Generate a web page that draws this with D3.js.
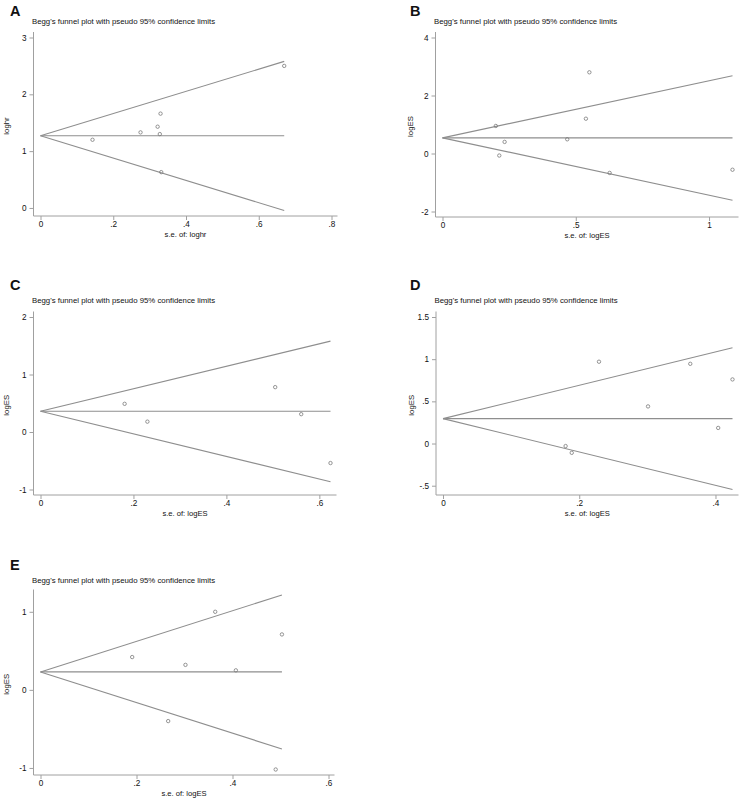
<!DOCTYPE html>
<html>
<head>
<meta charset="utf-8">
<script src="https://cdn.jsdelivr.net/npm/d3@7"></script>
<style>
  body { margin: 0; background: #fff; }
  svg { display: block; }
  text { font-family: "Liberation Sans", Arial, sans-serif; fill: #111; }
</style>
</head>
<body>
<svg id="chart" width="743" height="799"></svg>
<script>
// panel letters and axis titles
const panelIds = ["A", "B", "C", "D", "E"];
const yTitles = ["loghr", "logES", "logES", "logES", "logES"];
const xTitles = ["s.e. of: loghr", "s.e. of: logES", "s.e. of: logES", "s.e. of: logES", "s.e. of: logES"];
const plotTitle = "Begg's funnel plot with pseudo 95% confidence limits";

// tick values and their Stata style labels
const xTicks = [[0, 0.2, 0.4, 0.6, 0.8], [0, 0.5, 1], [0, 0.2, 0.4, 0.6], [0, 0.2, 0.4], [0, 0.2, 0.4, 0.6]];
const xTickLabels = [["0", ".2", ".4", ".6", ".8"], ["0", ".5", "1"], ["0", ".2", ".4", ".6"], ["0", ".2", ".4"], ["0", ".2", ".4", ".6"]];
const yTicks = [[0, 1, 2, 3], [-2, 0, 2, 4], [-1, 0, 1, 2], [-0.5, 0, 0.5, 1, 1.5], [-1, 0, 1]];
const yTickLabels = [["0", "1", "2", "3"], ["-2", "0", "2", "4"], ["-1", "0", "1", "2"], ["-.5", "0", ".5", "1", "1.5"], ["-1", "0", "1"]];

// study points: standard error and effect size
const seA = [0.143, 0.275, 0.322, 0.330, 0.328, 0.332, 0.670];
const esA = [1.20, 1.33, 1.43, 1.66, 1.30, 0.63, 2.50];
const seB = [0.200, 0.213, 0.233, 0.468, 0.538, 0.551, 0.627, 1.088];
const esB = [0.95, -0.07, 0.40, 0.49, 1.20, 2.80, -0.67, -0.56];
const seC = [0.181, 0.230, 0.505, 0.561, 0.624];
const esC = [0.49, 0.18, 0.78, 0.31, -0.54];
const seD = [0.180, 0.189, 0.229, 0.301, 0.363, 0.404, 0.425];
const esD = [-0.03, -0.11, 0.97, 0.44, 0.945, 0.185, 0.76];
const seE = [0.191, 0.266, 0.302, 0.364, 0.407, 0.490, 0.503];
const esE = [0.42, -0.40, 0.32, 1.00, 0.25, -1.02, 0.71];

// pooled estimate and the pseudo 95% limits at the largest s.e.
const pooled = [1.27, 0.54, 0.36, 0.295, 0.23];
const seMax = [0.670, 1.088, 0.624, 0.425, 0.503];
const upperEnd = [2.58, 2.68, 1.58, 1.135, 1.215];
const lowerEnd = [-0.045, -1.61, -0.865, -0.545, -0.757];

const seAll = [seA, seB, seC, seD, seE];
const esAll = [esA, esB, esC, esD, esE];

// where each plot region sits on the page
const frames = [
  { x0: 33.5, y0: 32, w: 304, h: 184, lx: 10, ly: 15.5, ty: 24, yt: -25 },
  { x0: 435.5, y0: 32, w: 303, h: 185, lx: 410, ly: 15.5, ty: 24, yt: -22.5 },
  { x0: 33.5, y0: 311.5, w: 303, h: 183.5, lx: 10, ly: 289.5, ty: 303, yt: -25 },
  { x0: 436, y0: 311.5, w: 302.5, h: 183.5, lx: 410, ly: 289.5, ty: 303, yt: -22.5 },
  { x0: 33.5, y0: 589.5, w: 301, h: 185.5, lx: 10, ly: 569.5, ty: 583, yt: -25 }
];

const lineColor = "#8e8e8e";
const axisColor = "#a0a0a0";

const svg = d3.select("#chart");

panelIds.forEach((id, i) => {
  const f = frames[i];
  const se = seAll[i], es = esAll[i];
  const g = svg.append("g");

  const xMax = d3.max([d3.max(xTicks[i]), seMax[i], d3.max(se)]);
  const yMin = d3.min([d3.min(yTicks[i]), lowerEnd[i], d3.min(es)]);
  const yMax = d3.max([d3.max(yTicks[i]), upperEnd[i], d3.max(es)]);

  const x = d3.scaleLinear().domain([0, xMax]).range([f.x0 + 7, f.x0 + f.w - 6]);
  const y = d3.scaleLinear().domain([yMin, yMax]).range([f.y0 + f.h - 5.5, f.y0 + 5.5]);

  // letter and title
  g.append("text").attr("x", f.lx).attr("y", f.ly)
    .attr("font-size", 14.5).attr("font-weight", "bold").text(id);
  g.append("text").attr("x", f.x0 - 1.5).attr("y", f.ty)
    .attr("font-size", 7.8).text(plotTitle);

  // axes
  const xAxis = d3.axisBottom(x).tickValues(xTicks[i])
    .tickFormat((d, k) => xTickLabels[i][k]).tickSize(4).tickPadding(1.5);
  const yAxis = d3.axisLeft(y).tickValues(yTicks[i])
    .tickFormat((d, k) => yTickLabels[i][k]).tickSize(4).tickPadding(3);

  const gx = g.append("g").attr("transform", `translate(0,${f.y0 + f.h})`).call(xAxis);
  const gy = g.append("g").attr("transform", `translate(${f.x0},0)`).call(yAxis);

  [gx, gy].forEach(a => {
    a.select(".domain").remove();
    a.selectAll(".tick line").attr("stroke", axisColor);
    a.selectAll(".tick text").attr("font-size", 8.2).attr("fill", "#111")
      .attr("font-family", "Liberation Sans, Arial, sans-serif");
  });

  g.append("line").attr("x1", f.x0).attr("x2", f.x0 + f.w)
    .attr("y1", f.y0 + f.h).attr("y2", f.y0 + f.h)
    .attr("stroke", axisColor).attr("stroke-width", 1);
  g.append("line").attr("x1", f.x0).attr("x2", f.x0)
    .attr("y1", f.y0).attr("y2", f.y0 + f.h)
    .attr("stroke", axisColor).attr("stroke-width", 1);

  // axis titles
  g.append("text").attr("x", f.x0 + f.w / 2)
    .attr("y", f.y0 + f.h + 20.5).attr("text-anchor", "middle")
    .attr("font-size", 7.6).text(xTitles[i]);
  g.append("text")
    .attr("transform", `translate(${f.x0 + f.yt},${f.y0 + f.h / 2 + 2}) rotate(-90)`)
    .attr("text-anchor", "middle").attr("font-size", 7.8).text(yTitles[i]);

  // funnel: pooled line and pseudo 95% limits
  const lines = [
    [[0, pooled[i]], [seMax[i], pooled[i]]],
    [[0, pooled[i]], [seMax[i], upperEnd[i]]],
    [[0, pooled[i]], [seMax[i], lowerEnd[i]]]
  ];
  g.selectAll("line.funnel").data(lines).join("line")
    .attr("class", "funnel")
    .attr("x1", d => x(d[0][0])).attr("y1", d => y(d[0][1]))
    .attr("x2", d => x(d[1][0])).attr("y2", d => y(d[1][1]))
    .attr("stroke", lineColor).attr("stroke-width", 1.1);

  // studies
  g.selectAll("circle").data(se.map((s, k) => [s, es[k]])).join("circle")
    .attr("cx", d => x(d[0])).attr("cy", d => y(d[1]))
    .attr("r", 1.7).attr("fill", "none")
    .attr("stroke", "#7a7a7a").attr("stroke-width", 0.8);
});
</script>
</body>
</html>
